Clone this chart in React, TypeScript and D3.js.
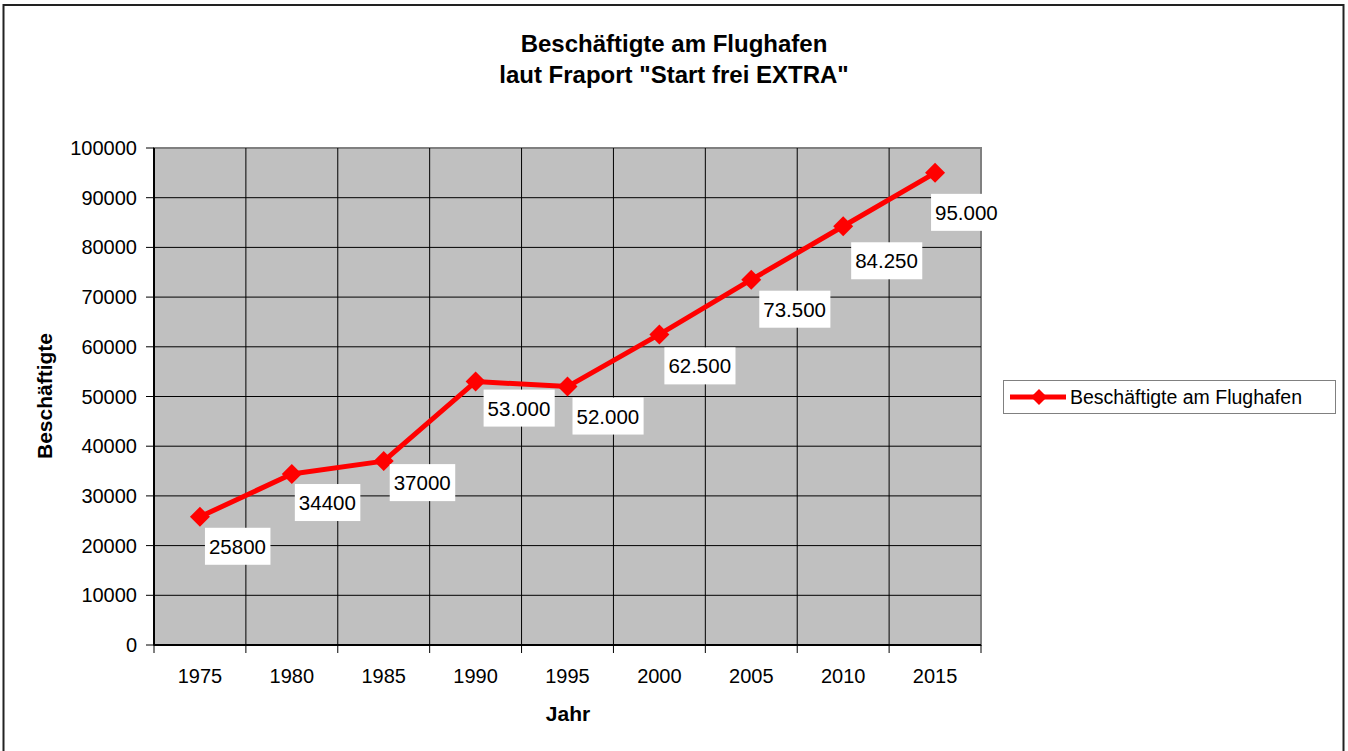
import * as d3 from "d3";

const years = ["1975", "1980", "1985", "1990", "1995", "2000", "2005", "2010", "2015"];
const employees = [25800, 34400, 37000, 53000, 52000, 62500, 73500, 84250, 95000];
const valueLabels = ["25800", "34400", "37000", "53.000", "52.000", "62.500", "73.500", "84.250", "95.000"];
const yTicks = [0, 10000, 20000, 30000, 40000, 50000, 60000, 70000, 80000, 90000, 100000];

const seriesName = "Beschäftigte am Flughafen";
const titleLines = ["Beschäftigte am Flughafen", 'laut Fraport "Start frei EXTRA"'];

// label box offsets from the point (dx, dy of top-left corner)
const LABEL_OFFSETS = [
  [5, 11], [3, 10], [6, 3], [8, 8], [5, 11], [5, 13], [8, 11], [8, 16], [-4, 21],
];

const W = 1348;
const H = 751;
const PLOT = { left: 154, top: 148, right: 981, bottom: 645 };
const FONT = "'Liberation Sans', Arial, sans-serif";
const RED = "#ff0000";

export default function App() {
  const x = d3.scaleBand().domain(years).range([PLOT.left, PLOT.right]);
  const y = d3.scaleLinear().domain([0, 100000]).range([PLOT.bottom, PLOT.top]);
  const cx = (yr: string) => (x(yr) ?? 0) + x.bandwidth() / 2;

  const line = d3
    .line<number>()
    .x((_, i) => cx(years[i]))
    .y((d) => y(d));

  const diamond = (px: number, py: number, r: number) =>
    `M${px},${py - r}L${px + r},${py}L${px},${py + r}L${px - r},${py}Z`;

  const charW = 11.1; // approx digit width at 20px
  const boundaries = [...years.map((yr) => x(yr) ?? 0), PLOT.right];

  return (
    <svg
      width={W}
      height={H}
      style={{ position: "absolute", left: 0, top: 0, background: "#fff" }}
      fontFamily={FONT}
    >
      <rect x={3.5} y={5} width={1340} height={770} fill="#fff" stroke="#222" strokeWidth={2} />

      {titleLines.map((t, i) => (
        <text key={i} x={674} y={52 + i * 31} textAnchor="middle" fontSize={24} fontWeight="bold">
          {t}
        </text>
      ))}

      {/* plot area */}
      <rect
        x={PLOT.left}
        y={PLOT.top}
        width={PLOT.right - PLOT.left}
        height={PLOT.bottom - PLOT.top}
        fill="#c0c0c0"
        stroke="#808080"
        strokeWidth={2}
      />

      {/* horizontal gridlines + y ticks */}
      {yTicks.map((t) => (
        <g key={t}>
          {t > 0 && t < 100000 && (
            <line x1={PLOT.left} x2={PLOT.right} y1={y(t)} y2={y(t)} stroke="#000" strokeWidth={1} />
          )}
          <line x1={PLOT.left - 8} x2={PLOT.left} y1={y(t)} y2={y(t)} stroke="#000" strokeWidth={1} />
          <text x={137} y={y(t) + 7} textAnchor="end" fontSize={20}>
            {t}
          </text>
        </g>
      ))}

      {/* vertical gridlines + x ticks */}
      {boundaries.map((bx, i) => (
        <g key={i}>
          {i > 0 && i < boundaries.length - 1 && (
            <line x1={bx} x2={bx} y1={PLOT.top} y2={PLOT.bottom} stroke="#000" strokeWidth={1} />
          )}
          <line x1={bx} x2={bx} y1={PLOT.bottom} y2={PLOT.bottom + 8} stroke="#000" strokeWidth={1} />
        </g>
      ))}
      {years.map((yr) => (
        <text key={yr} x={cx(yr)} y={683} textAnchor="middle" fontSize={20}>
          {yr}
        </text>
      ))}

      {/* axes */}
      <line x1={PLOT.left} x2={PLOT.left} y1={PLOT.top} y2={PLOT.bottom} stroke="#000" strokeWidth={2} />
      <line x1={PLOT.left} x2={PLOT.right} y1={PLOT.bottom} y2={PLOT.bottom} stroke="#000" strokeWidth={2} />

      <text x={568} y={721} textAnchor="middle" fontSize={21} fontWeight="bold">
        Jahr
      </text>
      <text
        transform={`translate(52,396) rotate(-90)`}
        textAnchor="middle"
        fontSize={21}
        fontWeight="bold"
      >
        Beschäftigte
      </text>

      {/* series */}
      <path d={line(employees) ?? ""} fill="none" stroke={RED} strokeWidth={5} strokeLinejoin="round" />
      {employees.map((v, i) => (
        <path key={i} d={diamond(cx(years[i]), y(v), 10)} fill={RED} />
      ))}

      {/* data labels */}
      {employees.map((v, i) => {
        const label = valueLabels[i];
        const bx = cx(years[i]) + LABEL_OFFSETS[i][0];
        const by = y(v) + LABEL_OFFSETS[i][1];
        const bw = label.replace(".", "").length * charW + (label.includes(".") ? 5.6 : 0) + 10;
        return (
          <g key={i}>
            <rect x={bx} y={by} width={bw} height={37} fill="#fff" />
            <text x={bx + 4} y={by + 26} fontSize={20.5}>
              {label}
            </text>
          </g>
        );
      })}

      {/* legend */}
      <rect x={1003.5} y={380.5} width={332} height={33} fill="#fff" stroke="#808080" strokeWidth={1} />
      <line x1={1010} x2={1066} y1={397} y2={397} stroke={RED} strokeWidth={5} />
      <path d={diamond(1039, 397, 8)} fill={RED} />
      <text x={1070} y={404} fontSize={19.5}>
        {seriesName}
      </text>
    </svg>
  );
}
